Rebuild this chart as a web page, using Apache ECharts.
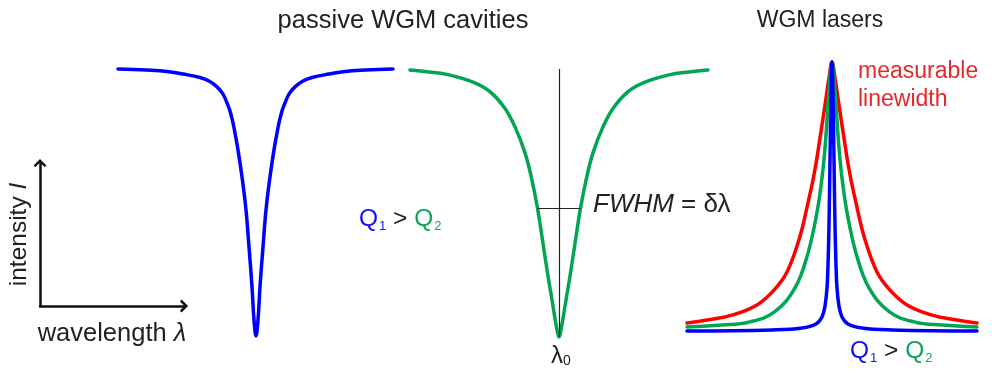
<!DOCTYPE html>
<html>
<head>
<meta charset="utf-8">
<script src="https://cdn.jsdelivr.net/npm/echarts@6/dist/echarts.min.js"></script>
<style>
  html, body { margin: 0; padding: 0; background: #ffffff; }
  #chart { width: 992px; height: 369px; }
</style>
</head>
<body>
<div id="chart"></div>
<script>
// ---- Data (detuning in arbitrary units, intensity normalised 0..1) ----
// Passive cavity, high Q (blue dip)
var dipBlueX = [-13.8,-11.0,-8.9,-7.3,-5.6,-4.7,-3.9,-3.3,-2.9,-2.6,-2.3,-2.05,-1.8,-1.4,-1.0,-0.7,-0.4,-0.2,0,0.2,0.4,0.7,1.0,1.4,1.8,2.05,2.3,2.6,2.9,3.3,3.9,4.7,5.6,7.3,8.9,11.0,13.7];
var dipBlueI = [1.000,0.996,0.991,0.981,0.968,0.955,0.933,0.906,0.873,0.843,0.798,0.750,0.697,0.596,0.472,0.333,0.184,0.060,0,0.060,0.184,0.333,0.472,0.596,0.697,0.750,0.798,0.843,0.873,0.906,0.933,0.955,0.968,0.981,0.991,0.996,1.000];
// Passive cavity, lower Q (green dip)
var dipGreenX = [-14.9,-13.0,-11.0,-8.6,-7.0,-5.5,-4.4,-3.4,-2.75,-2.15,-1.65,-1.15,-0.65,-0.25,0,0.25,0.65,1.15,1.65,2.15,2.75,3.4,4.4,5.5,7.0,8.6,11.0,13.0,14.9];
var dipGreenI = [0.996,0.989,0.978,0.951,0.918,0.858,0.784,0.687,0.593,0.481,0.362,0.239,0.127,0.037,0,0.037,0.127,0.239,0.362,0.481,0.593,0.687,0.784,0.858,0.918,0.951,0.978,0.989,0.996];
// FWHM marker of the green dip
var fwhmHalfWidth = 2.15;
var fwhmLevel = 0.481;
// WGM lasers (emission peaks)
var laserRedX = [-14.5,-12.5,-10,-7.5,-5.8,-4.5,-3.25,-2.45,-1.75,-1.2,-0.7,-0.3,0,0.3,0.7,1.2,1.75,2.45,3.25,4.5,5.8,7.5,10,12.5,14.5];
var laserRedI = [0.030,0.041,0.059,0.097,0.152,0.219,0.346,0.468,0.591,0.717,0.840,0.941,1,0.941,0.840,0.717,0.591,0.468,0.346,0.219,0.152,0.097,0.059,0.041,0.030];
var laserGreenX = [-14.5,-11,-8.3,-5.75,-3.7,-2.45,-1.55,-1.05,-0.7,-0.4,-0.15,0,0.15,0.4,0.7,1.05,1.55,2.45,3.7,5.75,8.3,11,14.5];
var laserGreenI = [0.015,0.022,0.033,0.071,0.160,0.283,0.431,0.554,0.680,0.840,0.963,1,0.963,0.840,0.680,0.554,0.431,0.283,0.160,0.071,0.033,0.022,0.015];
var laserBlueX = [-14.5,-6,-3,-1.6,-1.0,-0.7,-0.5,-0.4,-0.3,-0.2,-0.1,0,0.1,0.2,0.3,0.4,0.5,0.7,1.0,1.6,3,6,14.5];
var laserBlueI = [0,0.004,0.011,0.026,0.052,0.093,0.160,0.245,0.394,0.636,0.877,1,0.877,0.636,0.394,0.245,0.160,0.093,0.052,0.026,0.011,0.004,0];

function pairs(xs, ys) { return xs.map(function (x, i) { return [x, ys[i]]; }); }

var FONT = '"Liberation Sans", Arial, sans-serif';
var BLUE = '#0000ff', GREEN = '#00a651', RED = '#ff0000';
var TXT = '#222222';
var QBLUE = '#1010ff', QGREEN = '#13a35a';
var chevron = 'path://M0,10 L10,0 L20,10 L17,12.5 L10,5.5 L3,12.5 Z';

function hiddenAxis(idx, min, max) { return { type: 'value', gridIndex: idx, min: min, max: max, show: false }; }
function curve(name, idx, xs, ys, color, extra) {
  var s = {
    name: name, type: 'line', xAxisIndex: idx, yAxisIndex: idx,
    data: pairs(xs, ys), showSymbol: false, smooth: 0.4,
    lineStyle: { color: color, width: 3.5, cap: 'round', join: 'round' },
    silent: true, clip: false
  };
  for (var k in extra) s[k] = extra[k];
  return s;
}
function qRich(size, sub) {
  return {
    b: { fill: QBLUE, font: size + 'px ' + FONT, lineHeight: 28, verticalAlign: 'middle' },
    bs: { fill: QBLUE, font: sub + 'px ' + FONT, lineHeight: 28, padding: [15, 0, 0, 1], verticalAlign: 'middle' },
    k: { fill: TXT, font: size + 'px ' + FONT, lineHeight: 28, verticalAlign: 'middle' },
    g: { fill: QGREEN, font: size + 'px ' + FONT, lineHeight: 28, verticalAlign: 'middle' },
    gs: { fill: QGREEN, font: sub + 'px ' + FONT, lineHeight: 28, padding: [15, 0, 0, 1], verticalAlign: 'middle' }
  };
}

var chart = echarts.init(document.getElementById('chart'), null, { renderer: 'canvas' });
var option = {
  animation: false,
  backgroundColor: '#ffffff',
  grid: [
    { left: 40, top: 163, width: 144, height: 143 },
    { left: 118, top: 69, width: 275, height: 267 },
    { left: 410, top: 69, width: 298, height: 268 },
    { left: 687, top: 62, width: 290, height: 269 }
  ],
  xAxis: [
    { type: 'value', gridIndex: 0, min: 0, max: 1,
      axisLine: { show: true, lineStyle: { color: '#111', width: 2.5 }, symbol: ['none', chevron], symbolSize: [13, 10] },
      axisTick: { show: false }, axisLabel: { show: false }, splitLine: { show: false },
      name: 'wavelength {i|λ}', nameLocation: 'middle', nameGap: 15,
      nameTextStyle: { fontFamily: FONT, fontSize: 25.5, color: TXT,
        rich: { i: { fontFamily: FONT, fontSize: 25.5, color: TXT, fontStyle: 'italic' } } } },
    hiddenAxis(1, -13.8, 13.7),
    hiddenAxis(2, -14.9, 14.9),
    hiddenAxis(3, -14.5, 14.5)
  ],
  yAxis: [
    { type: 'value', gridIndex: 0, min: 0, max: 1,
      axisLine: { show: true, lineStyle: { color: '#111', width: 2.5 }, symbol: ['none', chevron], symbolSize: [13, 10] },
      axisTick: { show: false }, axisLabel: { show: false }, splitLine: { show: false },
      name: 'intensity {i|I}', nameLocation: 'middle', nameGap: 8, nameRotate: 90,
      nameTextStyle: { fontFamily: FONT, fontSize: 24.5, color: TXT,
        rich: { i: { fontFamily: FONT, fontSize: 24.5, color: TXT, fontStyle: 'italic' } } } },
    hiddenAxis(1, 0, 1),
    hiddenAxis(2, 0, 1),
    hiddenAxis(3, 0, 1)
  ],
  series: [
    curve('Q1 passive', 1, dipBlueX, dipBlueI, BLUE, {}),
    curve('Q2 passive', 2, dipGreenX, dipGreenI, GREEN, {
      markLine: {
        silent: true, symbol: 'none', label: { show: false },
        lineStyle: { color: '#222', width: 1.2, type: 'solid' },
        emphasis: { disabled: true },
        data: [
          [{ coord: [0, 0] }, { coord: [0, 1] }],
          [{ coord: [-fwhmHalfWidth, fwhmLevel] }, { coord: [fwhmHalfWidth, fwhmLevel] }]
        ]
      }
    }),
    curve('Q2 laser', 3, laserRedX, laserRedI, RED, {}),
    curve('Q2 laser green', 3, laserGreenX, laserGreenI, GREEN, {}),
    curve('Q1 laser', 3, laserBlueX, laserBlueI, BLUE, {})
  ],
  graphic: [
    { type: 'text', x: 403, y: 21, style: { text: 'passive WGM cavities', font: '25.5px ' + FONT, fill: TXT, align: 'center', verticalAlign: 'middle' } },
    { type: 'text', x: 820, y: 21, style: { text: 'WGM lasers', font: '23px ' + FONT, fill: TXT, align: 'center', verticalAlign: 'middle' } },
    { type: 'text', x: 359, y: 219, style: {
        text: '{b|Q}{bs|1}{k| > }{g|Q}{gs|2}', align: 'left', verticalAlign: 'middle', rich: qRich(24.5, 13) } },
    { type: 'text', x: 850, y: 351, style: {
        text: '{b|Q}{bs|1}{k| > }{g|Q}{gs|2}', align: 'left', verticalAlign: 'middle', rich: qRich(24.5, 13) } },
    { type: 'text', x: 593, y: 205, style: {
        text: '{i|FWHM}{n| = δλ}', align: 'left', verticalAlign: 'middle',
        rich: {
          i: { fill: TXT, font: 'italic 26px ' + FONT, lineHeight: 28 },
          n: { fill: TXT, font: '26px ' + FONT, lineHeight: 28 }
        } } },
    { type: 'text', x: 551, y: 356, style: {
        text: '{l|λ}{s|0}', align: 'left', verticalAlign: 'middle',
        rich: {
          l: { fill: TXT, font: '24px ' + FONT, lineHeight: 26 },
          s: { fill: TXT, font: '14px ' + FONT, lineHeight: 26, padding: [11, 0, 0, 0] }
        } } },
    { type: 'text', x: 858, y: 72, style: { text: 'measurable', font: '23px ' + FONT, fill: '#e5282c', align: 'left', verticalAlign: 'middle' } },
    { type: 'text', x: 858, y: 100, style: { text: 'linewidth', font: '23px ' + FONT, fill: '#e5282c', align: 'left', verticalAlign: 'middle' } }
  ]
};
chart.setOption(option);
</script>
</body>
</html>
